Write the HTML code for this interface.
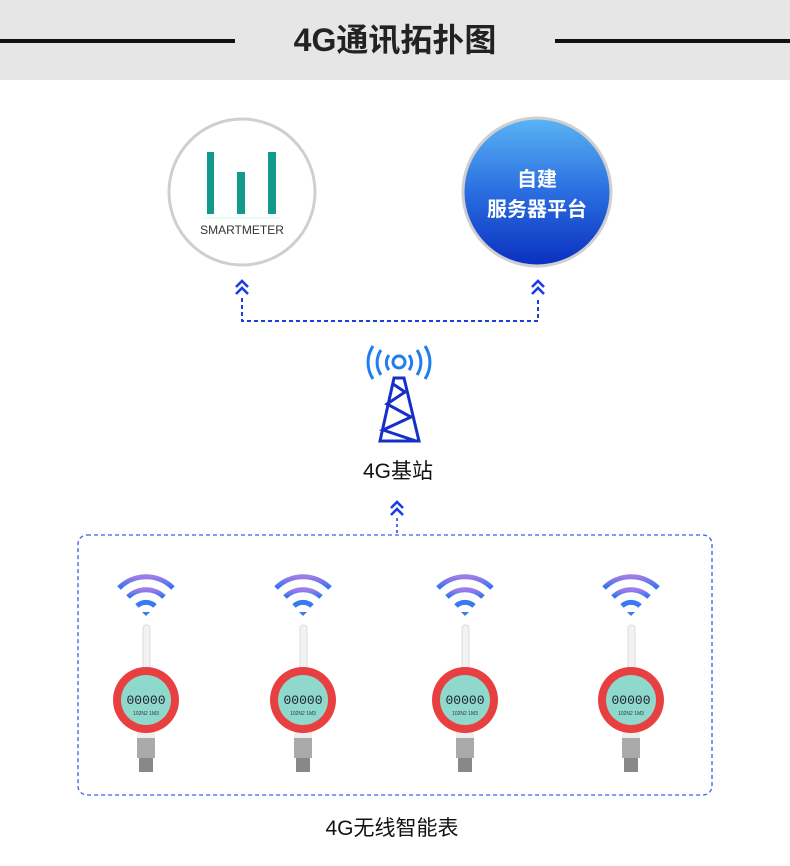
<!DOCTYPE html>
<html><head><meta charset="utf-8"><style>
body{margin:0;width:790px;height:866px;background:#fff;position:relative;overflow:hidden;font-family:"Liberation Sans","Noto Sans CJK SC",sans-serif}
.t{position:absolute;text-align:center}
</style></head><body>
<div style="position:absolute;left:0;top:0;width:790px;height:80px;background:#e6e6e6"></div>
<div style="position:absolute;left:0;top:39px;width:235px;height:4px;background:#111"></div>
<div style="position:absolute;left:555px;top:39px;width:235px;height:4px;background:#111"></div>
<div class="t" style="left:235px;width:320px;top:20px;font-size:32px;font-weight:bold;color:#222;line-height:40px">4G通讯拓扑图</div>
<svg width="790" height="866" style="position:absolute;left:0;top:0">
<defs>
<linearGradient id="bg" x1="0" y1="0" x2="0" y2="1"><stop offset="0" stop-color="#5ab4f4"/><stop offset="0.5" stop-color="#2a6ee0"/><stop offset="1" stop-color="#0a2fc0"/></linearGradient>
<linearGradient id="wf" x1="0" y1="0" x2="0" y2="1"><stop offset="0" stop-color="#a07ce8"/><stop offset="1" stop-color="#2f74f0"/></linearGradient>
<g id="chev" fill="none" stroke="#1a3ee0" stroke-width="2.6"><path d="M-6,-2 L0,-8 L6,-2 M-6,5 L0,-1 L6,5"/></g>
<g id="meter">
<path d="M-27,-112 A38,38 0 0 1 27,-112" stroke="url(#wf)" stroke-width="5" fill="none"/>
<path d="M-18,-103 A26,26 0 0 1 18,-103" stroke="url(#wf)" stroke-width="5" fill="none"/>
<path d="M-9,-94 A13,13 0 0 1 9,-94" stroke="#3a7af0" stroke-width="5" fill="none"/>
<path d="M-4,-88 L4,-88 L0,-84 Z" fill="#3a7af0"/>
<rect x="-3" y="-75" width="7" height="45" rx="3" fill="#f2f2f2" stroke="#ddd"/>
<rect x="-9" y="30" width="18" height="8" fill="#eee"/>
<rect x="-9" y="38" width="18" height="20" fill="#aaa"/>
<rect x="-7" y="58" width="14" height="14" fill="#888"/>
<circle cx="0" cy="0" r="33" fill="#e84040"/>
<circle cx="0" cy="0" r="25" fill="#8fd8cc"/>
<text x="0" y="4" font-size="13" text-anchor="middle" font-family="Liberation Mono" fill="#223">00000</text>
<text x="0" y="15" font-size="5" text-anchor="middle" fill="#334">102N2 1M3</text>
</g>
</defs>
<circle cx="242" cy="192" r="73" fill="#fff" stroke="#cfcfcf" stroke-width="3"/>
<rect x="207" y="152" width="7" height="62" fill="#119a8c"/>
<rect x="237" y="172" width="8" height="42" fill="#119a8c"/>
<rect x="268" y="152" width="8" height="62" fill="#119a8c"/>
<line x1="205" y1="218" x2="280" y2="218" stroke="#cfe" stroke-width="1"/>
<text x="242" y="234" font-size="12" text-anchor="middle" fill="#333" font-family="Liberation Sans">SMARTMETER</text>
<circle cx="537" cy="192" r="74" fill="url(#bg)" stroke="#cfcfcf" stroke-width="3"/>
<text x="537" y="186" font-size="20" font-weight="bold" fill="#fff" text-anchor="middle" font-family="Noto Sans CJK SC">自建</text>
<text x="537" y="216" font-size="20" font-weight="bold" fill="#fff" text-anchor="middle" font-family="Noto Sans CJK SC">服务器平台</text>
<use href="#chev" x="242" y="289"/><use href="#chev" x="538" y="289"/>
<path d="M242,298 V321 H538 V298" fill="none" stroke="#1a3ee0" stroke-width="2" stroke-dasharray="4,3"/>
<g fill="none" stroke="#1f7ef0" stroke-width="3">
<circle cx="399" cy="362" r="6"/>
<path d="M389,355 A12,12 0 0 0 389,370 M409,355 A12,12 0 0 1 409,370"/>
<path d="M381,350 A22,22 0 0 0 381,375 M417,350 A22,22 0 0 1 417,375"/>
<path d="M373,346 A30,30 0 0 0 373,379 M425,346 A30,30 0 0 1 425,379"/>
</g>
<g fill="none" stroke="#1530c8" stroke-width="3">
<path d="M394,378 L404,378 L419,441 L380,441 Z"/>
<path d="M393,384 L405,392 L387,404 L411,417 L383,430 L416,441"/>
</g>
<text x="398" y="478" font-size="21" text-anchor="middle" fill="#111" font-family="Liberation Sans,Noto Sans CJK SC">4G基站</text>
<use href="#chev" x="397" y="510"/>
<line x1="397" y1="518" x2="397" y2="535" stroke="#1a3ee0" stroke-width="1.5" stroke-dasharray="3,3"/>
<rect x="78" y="535" width="634" height="260" rx="9" fill="none" stroke="#3a5ef0" stroke-width="1.3" stroke-dasharray="4,3"/>
<use href="#meter" x="146" y="700"/>
<use href="#meter" x="303" y="700"/>
<use href="#meter" x="465" y="700"/>
<use href="#meter" x="631" y="700"/>
<text x="392" y="835" font-size="21" text-anchor="middle" fill="#111" font-family="Liberation Sans,Noto Sans CJK SC">4G无线智能表</text>
</svg>
</body></html>
